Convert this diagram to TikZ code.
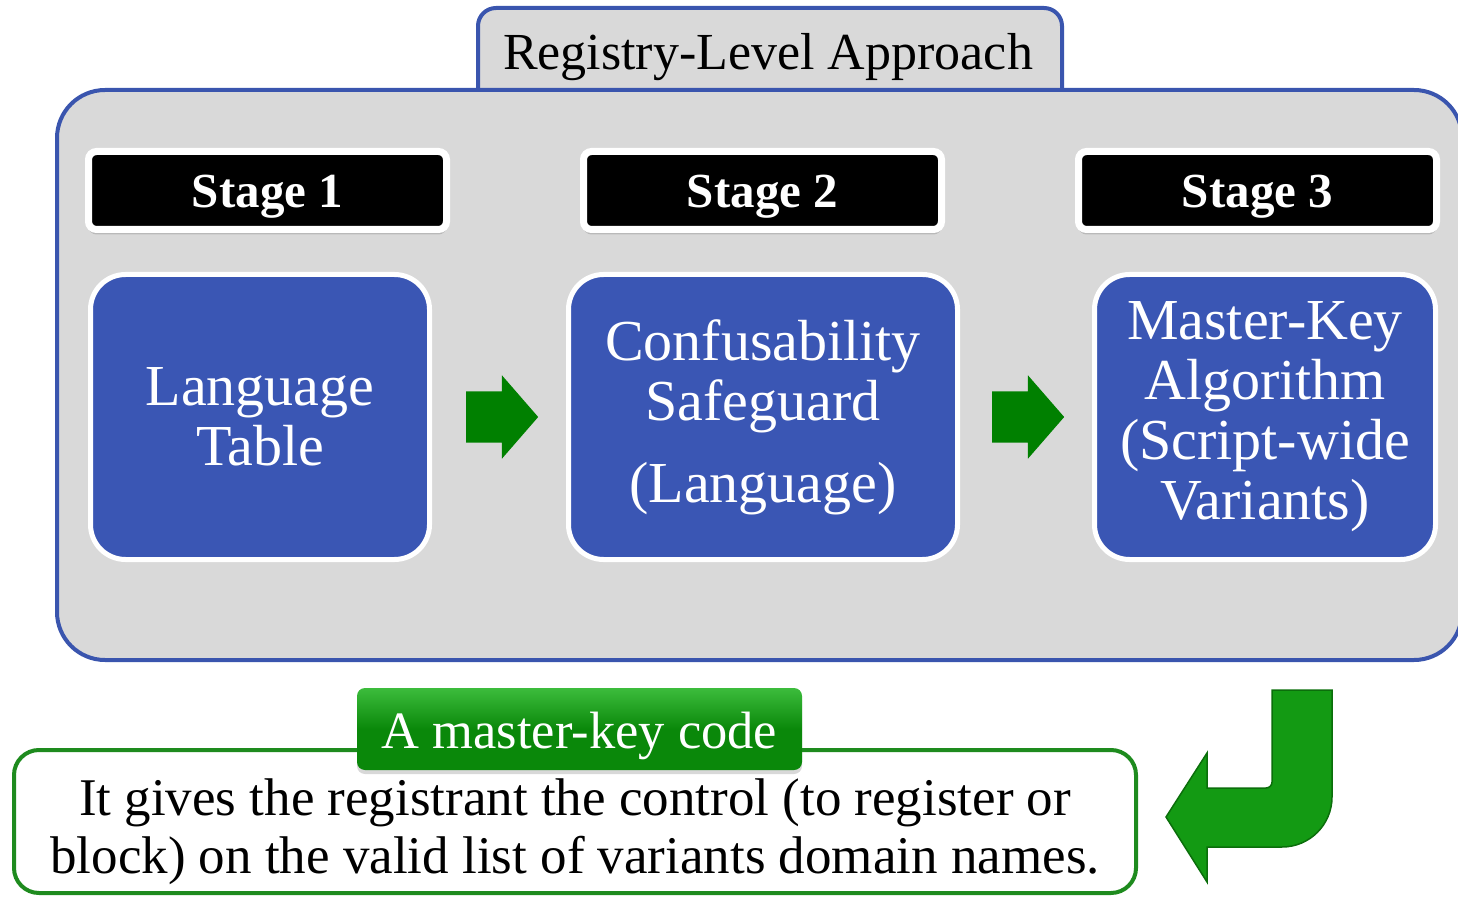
\documentclass[tikz,border=0pt]{standalone}
\usepackage{fontspec}
\setmainfont{Liberation Serif}
\usetikzlibrary{shapes.arrows,shadows}

\definecolor{panelgray}{HTML}{D9D9D9}
\definecolor{panelblue}{HTML}{3A55AE}
\definecolor{boxblue}{HTML}{3A56B4}
\definecolor{arrowgreen}{HTML}{008000}
\definecolor{notegreen}{HTML}{1E8B1E}
\definecolor{labeltop}{HTML}{3CBC3C}
\definecolor{labelgreen}{HTML}{0A880A}
\definecolor{bentgreen}{HTML}{139A13}
\definecolor{bentdark}{HTML}{0B6E0B}

\begin{document}
\begin{tikzpicture}[x=1pt, y=1pt,
    stagebox/.style={draw=white, line width=7pt, fill=black, rounded corners=8pt,
      minimum width=358pt, minimum height=78pt, inner sep=0pt, text=white,
      text height=46pt, text depth=11pt,
      font=\fontsize{49}{52}\selectfont\bfseries,
      drop shadow={shadow xshift=0pt, shadow yshift=-5pt, opacity=0.35}},
    stepbox/.style={draw=white, line width=5pt, fill=boxblue, rounded corners=35pt,
      minimum height=285pt, inner sep=0pt, align=center, text=white,
      font=\fontsize{58}{60}\selectfont},
    flowarrow/.style={single arrow, fill=arrowgreen, inner xsep=0pt, inner ysep=25.5pt,
      minimum height=72pt, single arrow head extend=16pt,
      single arrow tip angle=98}]

    % Picture size
    \useasboundingbox (0,0) rectangle (1458,898);
    \clip (0,0) rectangle (1458,898);

    % Title tab and main panel
    \draw[panelblue, line width=4pt, fill=panelgray, rounded corners=18pt]
      (478,808) -- (478,890) -- (1062,890) -- (1062,808);
    \draw[panelblue, line width=4pt, fill=panelgray, rounded corners=48pt]
      (57,238) rectangle (1462,808);
    \node[font=\fontsize{52}{55}\selectfont] (title) at (768,841) {Registry-Level Approach};

    % Stage headers
    \node[stagebox] (head1) at (267.5,707.5) {Stage 1};
    \node[stagebox] (head2) at (762.5,707.5) {Stage 2};
    \node[stagebox] (head3) at (1257.5,707.5) {Stage 3};

    % Stage boxes
    \node[stepbox, minimum width=339pt] (lang) at (260,481) {Language\\Table};
    \node[stepbox, minimum width=389pt] (conf) at (763,481) {Confusability\\Safeguard\\[22pt](Language)};
    \node[stepbox, minimum width=341pt] (mkey) at (1265,481) {Master-Key\\Algorithm\\(Script-wide\\Variants)};

    % Arrows between stages
    \node[flowarrow] (arr1) at (491,481) {};
    \node[flowarrow] (arr2) at (1017,481) {};

    % Bottom note
    \node[draw=notegreen, line width=4pt, fill=white, rounded corners=25pt,
      minimum width=1122pt, minimum height=143pt] (note) at (575,76.5) {};
    \node[font=\fontsize{53}{58}\selectfont, align=center] (notetext) at (575,66)
      {It gives the registrant the control (to register or\\block) on the valid list of variants domain names.};
    \node[top color=labeltop, bottom color=labelgreen, middle color=labelgreen,
      rounded corners=8pt, minimum width=445pt, minimum height=82pt, inner ysep=0pt,
      text height=49pt, text depth=11pt, text=white,
      font=\fontsize{52.5}{54}\selectfont,
      drop shadow={shadow xshift=0pt, shadow yshift=-4pt, opacity=0.3}] (key) at (579.5,169) {A master-key code};

    % Bent arrow
    \draw[line width=1.5pt, draw=bentdark, fill=bentgreen]
      (1272,208) -- (1332,208) -- (1332,101) arc[start angle=0, end angle=-90, radius=50]
      -- (1207,51) -- (1207,16) -- (1166,81) -- (1207,145) -- (1207,110)
      -- (1266,110) arc[start angle=-90, end angle=0, radius=6] -- cycle;
\end{tikzpicture}
\end{document}
